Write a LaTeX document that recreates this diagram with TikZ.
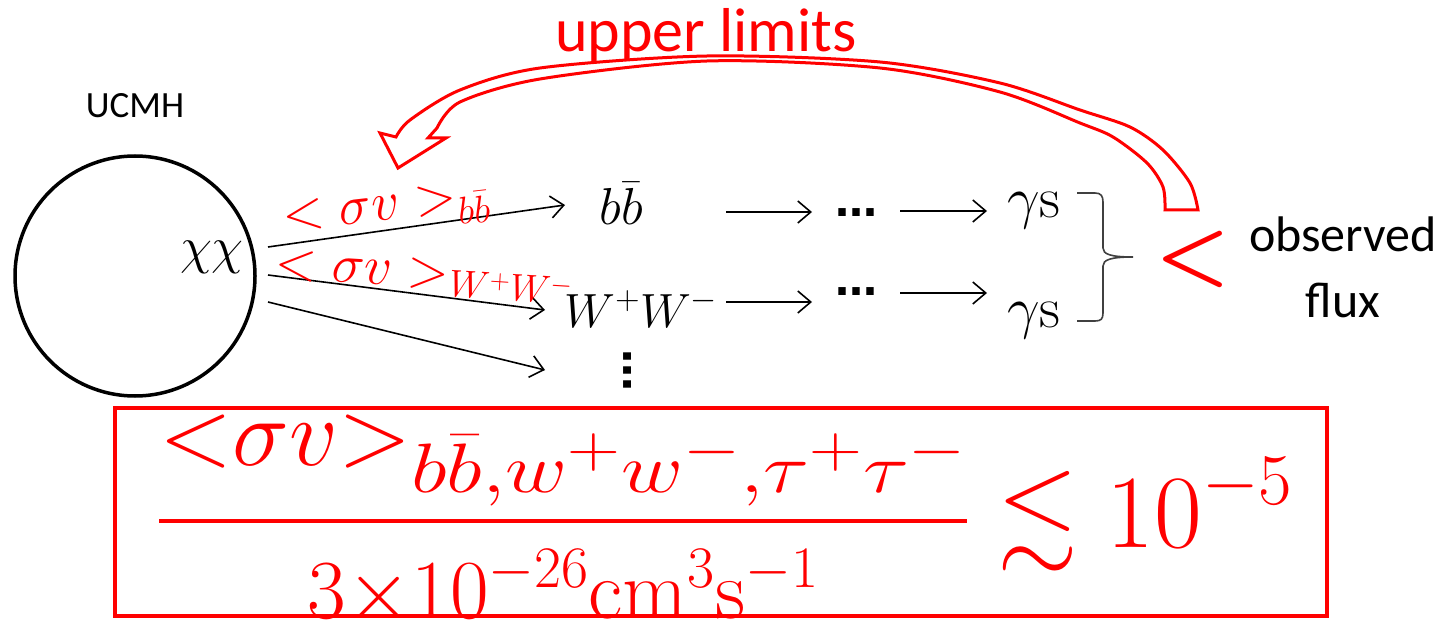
\RequirePackage{fix-cm}
\documentclass[tikz,border=0pt]{standalone}
\usepackage{fontspec}
\usepackage{amssymb}
\usepackage{graphicx}
\newfontfamily\calibri{Carlito}
\newfontfamily\dejavu{DejaVu Sans}
\usetikzlibrary{arrows.meta}
\DeclareMathSizes{96}{96}{70}{60}
\begin{document}
\begin{tikzpicture}[x=1pt,y=-1pt,
  blk/.style={inner sep=0pt, font=\fontsize{52}{60}\selectfont},
  lbl/.style={inner sep=0pt, text=red, font=\fontsize{55}{60}\selectfont},
  dotsn/.style={inner sep=0pt, font=\dejavu\bfseries\fontsize{42}{48}\selectfont},
  arr/.style={-{Straight Barb[length=13pt,width=22pt]}, line width=1.6pt},
  brc/.style={line width=1.6pt, draw=black!75},
  cal/.style={inner sep=0pt, font=\calibri\fontsize{50}{66}\selectfont}]
\useasboundingbox (0,0) rectangle (1456,620);
% hollow arrow
\draw[red, line width=3pt, fill=white, line join=miter]
  plot[smooth] coordinates {(396,137) (410,120) (460,90) (540,68) (707,56) (880,62) (1000,83) (1080,110) (1130,127) (1163,150) (1190,183) (1198,210)}
  -- (1165,210)
  -- plot[smooth] coordinates {(1165,210) (1163,187) (1147,163) (1113,137) (1080,123) (1000,92) (880,68) (707,61) (540,79) (460,102) (437,128)}
  -- (428,138) -- (446,138) -- (398,168) -- (380,133) -- cycle;
\node[cal, text=red, anchor=base, font=\calibri\fontsize{62}{66}\selectfont] (ul) at (706,52) {upper limits};
% halo
\draw[line width=3.5pt] (135,276) circle[radius=120];
\node[cal, anchor=base, font=\calibri\fontsize{37}{44}\selectfont] (ucmh) at (135,118) {UCMH};
\node[blk, anchor=base] (chi) at (212,264) {$\chi\chi$};
% channels
\node[blk, anchor=base] (bb) at (621,225) {$b\bar b$};
\node[blk, anchor=base, font=\fontsize{48}{56}\selectfont] (ww) at (641,327) {$W^+W^-$};
\node[dotsn, rotate=90] (vd) at (628,370) {…};
\coordinate (s1) at (268,247); \coordinate (e1) at (565,205);
\coordinate (s2) at (268,275); \coordinate (e2) at (545,310);
\coordinate (s3) at (268,302); \coordinate (e3) at (545,370);
\draw[arr] (s1) -- (e1);
\draw[arr] (s2) -- (e2);
\draw[arr] (s3) -- (e3);
\node[lbl, anchor=base west, rotate=6.5] (l1) at (284,232) {$<\sigma v>_{b\bar b}$};
\node[lbl, anchor=base west, rotate=-3.5] (l2) at (274,278) {$<\sigma v>_{W^+W^-}$};
% cascades
\node[dotsn] (d1) at (856,213) {…};
\node[dotsn] (d2) at (856,292) {…};
\node[blk, anchor=base, font=\fontsize{58}{64}\selectfont] (g1) at (1034,218) {$\gamma\mathrm{s}$};
\node[blk, anchor=base, font=\fontsize{58}{64}\selectfont] (g2) at (1034,327) {$\gamma\mathrm{s}$};
\coordinate (r1a) at (726,212); \coordinate (r1b) at (812,212);
\coordinate (r1c) at (900,211); \coordinate (r1d) at (987,211);
\coordinate (r2a) at (726,302); \coordinate (r2b) at (812,302);
\coordinate (r2c) at (900,293); \coordinate (r2d) at (987,293);
\draw[arr] (r1a) -- (r1b);
\draw[arr] (r1c) -- (r1d);
\draw[arr] (r2a) -- (r2b);
\draw[arr] (r2c) -- (r2d);
% brace
\draw[brc] (1077,193) -- (1095,193) .. controls (1101,193) and (1103,196) .. (1103,202) -- (1103,248) .. controls (1103,254) and (1110,257) .. (1133,257) .. controls (1110,257) and (1103,260) .. (1103,266) -- (1103,313) .. controls (1103,319) and (1101,321) .. (1095,321) -- (1077,321);
\node[inner sep=0pt, text=red, anchor=center, font=\boldmath\fontsize{84}{90}\selectfont] (lt) at (1193,259) {$<$};
\node[cal, align=center, anchor=north] (obs) at (1343,217) {observed\\flux};
% formula
\draw[red, line width=4pt] (115,408) rectangle (1327,616);
\node[inner sep=0pt, anchor=base west, text=red, font=\fontsize{104}{120}\selectfont] (f) at (158,547)
  {$\displaystyle\frac{\mbox{\fontsize{96}{110}\selectfont$\displaystyle{<}\sigma v{>}_{\scalebox{1.22}[1]{$\scriptstyle b\bar b,w^+w^-,\tau^+\tau^-$}}$}}{\mbox{\fontsize{84}{94}\selectfont$3{\times}10^{-26}\mathrm{cm}^3\mathrm{s}^{-1}$}}\lesssim10^{-5}$};
\end{tikzpicture}
\end{document}
